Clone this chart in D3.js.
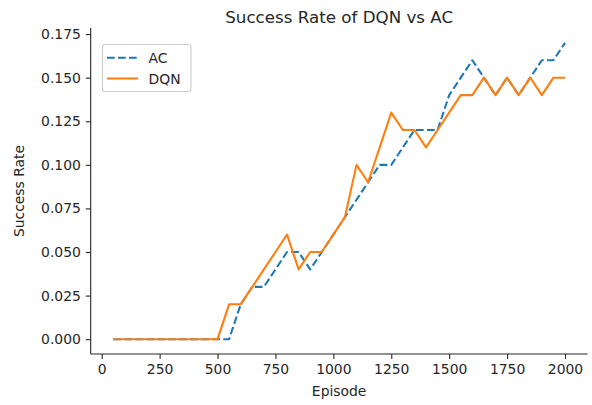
<!DOCTYPE html>
<html>
<head>
<meta charset="utf-8">
<script src="https://cdn.jsdelivr.net/npm/d3@7"></script>
<style>
  body { margin: 0; background: #fff; }
  text { font-family: "DejaVu Sans", sans-serif; fill: #262626; }
</style>
</head>
<body>
<div id="container"></div>
<script>
/* CONSTANTS AND GLOBALS */
const width = 592,
  height = 405,
  margin = { top: 28, bottom: 51, left: 90.7, right: 4.4 }

/* DATA */
const episodes = d3.range(50, 2001, 50) // 50, 100, ... 2000 (episode axis)
const acRate = [0, 0, 0, 0, 0, 0, 0, 0, 0, 0,
  0, 0.02, 0.03, 0.03, 0.04, 0.05, 0.05, 0.04, 0.05, 0.06,
  0.07, 0.08, 0.09, 0.10, 0.10, 0.11, 0.12, 0.12, 0.12, 0.14,
  0.15, 0.16, 0.15, 0.14, 0.15, 0.14, 0.15, 0.16, 0.16, 0.17]
const dqnRate = [0, 0, 0, 0, 0, 0, 0, 0, 0, 0,
  0.02, 0.02, 0.03, 0.04, 0.05, 0.06, 0.04, 0.05, 0.05, 0.06,
  0.07, 0.10, 0.09, 0.11, 0.13, 0.12, 0.12, 0.11, 0.12, 0.13,
  0.14, 0.14, 0.15, 0.14, 0.15, 0.14, 0.15, 0.14, 0.15, 0.15]
const xTicks = [0, 250, 500, 750, 1000, 1250, 1500, 1750, 2000]
const yTicks = [0, 0.025, 0.05, 0.075, 0.1, 0.125, 0.15, 0.175]

const series = [
  { name: "AC", values: acRate, color: "#1f77b4", dash: "7.7,3.3" },
  { name: "DQN", values: dqnRate, color: "#ff7f0e", dash: null }
]

// + SCALES (matplotlib style 5% margins)
const xScale = d3.scaleLinear()
  .domain([-47.5, 2097.5])
  .range([margin.left, width - margin.right])

const yScale = d3.scaleLinear()
  .domain([-0.0085, 0.1785])
  .range([height - margin.bottom, margin.top])

// CREATE SVG ELEMENT
const svg = d3.select("#container")
  .append("svg")
  .attr("width", width)
  .attr("height", height)

// BUILD AND CALL AXES
const xAxis = d3.axisBottom(xScale)
  .tickValues(xTicks)
  .tickFormat(d3.format("d"))
  .tickSize(4.9)
  .tickPadding(4.9)

const xAxisGroup = svg.append("g")
  .attr("transform", `translate(0, ${height - margin.bottom})`)
  .call(xAxis)

const yAxis = d3.axisLeft(yScale)
  .tickValues(yTicks)
  .tickFormat(d3.format(".3f"))
  .tickSize(4.9)
  .tickPadding(4.9)

const yAxisGroup = svg.append("g")
  .attr("transform", `translate(${margin.left}, 0)`)
  .call(yAxis)

svg.selectAll(".tick text")
  .style("font-size", "13.9px")
  .style("font-family", "DejaVu Sans")
  .attr("fill", "#262626")
svg.selectAll(".domain, .tick line")
  .attr("stroke", "#262626")
  .attr("stroke-width", 1.1)
xAxisGroup.select(".domain").attr("d", `M${margin.left},0H${width - margin.right}`)
yAxisGroup.select(".domain").attr("d", `M0,${margin.top}V${height - margin.bottom}`)

// LINE GENERATOR
const lineGen = d3.line()
  .x((d, i) => xScale(episodes[i]))
  .y(d => yScale(d))

svg.selectAll(".line")
  .data(series)
  .join("path")
  .attr("class", "line")
  .attr("fill", "none")
  .attr("stroke", d => d.color)
  .attr("stroke-width", 2.08)
  .attr("stroke-dasharray", d => d.dash)
  .attr("stroke-linejoin", "round")
  .attr("d", d => lineGen(d.values))

// LEGEND
const legend = svg.append("g")
  .attr("transform", "translate(102.5, 44.5)")

legend.append("rect")
  .attr("width", 88.5)
  .attr("height", 47)
  .attr("rx", 3)
  .attr("fill", "rgba(255,255,255,0.8)")
  .attr("stroke", "#cccccc")
  .attr("stroke-width", 1.1)

series.forEach((s, i) => {
  const y = 13.3 + i * 20.7
  legend.append("line")
    .attr("x1", 4.5).attr("x2", 35.5)
    .attr("y1", y).attr("y2", y)
    .attr("stroke", s.color)
    .attr("stroke-width", 2.08)
    .attr("stroke-dasharray", s.dash)
  legend.append("text")
    .attr("x", 46)
    .attr("y", y + 5)
    .style("font-size", "13.9px")
    .text(s.name)
})

// Titles
svg.append("text")
  .attr("x", (margin.left + width - margin.right) / 2)
  .attr("y", 23)
  .style("text-anchor", "middle")
  .style("font-size", "16.7px")
  .text("Success Rate of DQN vs AC")

svg.append("text")
  .attr("x", (margin.left + width - margin.right) / 2)
  .attr("y", 396)
  .style("text-anchor", "middle")
  .style("font-size", "13.9px")
  .text("Episode")

svg.append("text")
  .attr("transform", "rotate(-90)")
  .attr("x", -(margin.top + height - margin.bottom) / 2)
  .attr("y", 24)
  .style("text-anchor", "middle")
  .style("font-size", "13.9px")
  .text("Success Rate")
</script>
</body>
</html>
